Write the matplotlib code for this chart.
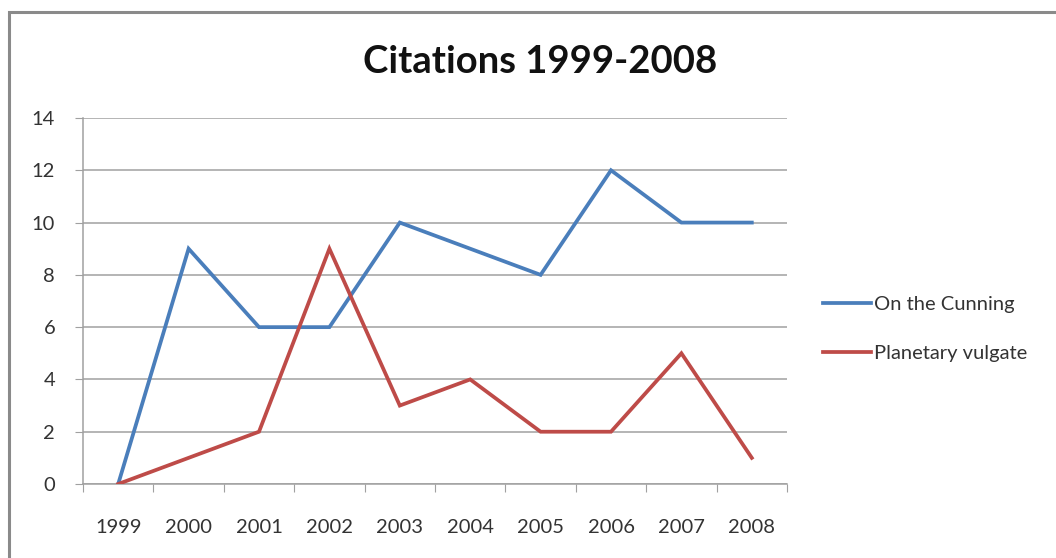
import matplotlib
matplotlib.use("Agg")
import matplotlib.pyplot as plt
from matplotlib.patches import Rectangle

years = ["1999", "2000", "2001", "2002", "2003", "2004", "2005", "2006", "2007", "2008"]
on_the_cunning = [0, 9, 6, 6, 10, 9, 8, 12, 10, 10]
planetary_vulgate = [0, 1, 2, 9, 3, 4, 2, 2, 5, 1]
y_ticks = [0, 2, 4, 6, 8, 10, 12, 14]

plt.rcParams["font.family"] = ["Lato", "DejaVu Sans"]

W, H = 1056, 558
fig = plt.figure(figsize=(W / 100, H / 100), dpi=100)
fig.patch.set_facecolor("white")

# chart frame
fig.patches.append(Rectangle((8.5 / W, -0.05), 1.2, 1 - 12 / H + 0.05,
                             transform=fig.transFigure, fill=False,
                             edgecolor="#8a8a8a", linewidth=2.2))

ax = fig.add_axes([83 / W, 1 - 484 / H, (787 - 83) / W, (484 - 118) / H])
x = range(len(years))
ax.plot(x, on_the_cunning, color="#4A7EBB", lw=2.7, label="On the Cunning",
        solid_joinstyle="miter", zorder=3)
ax.plot(x, planetary_vulgate, color="#BE4B48", lw=2.7, label="Planetary vulgate",
        solid_joinstyle="miter", zorder=3)

ax.set_xlim(-0.5, len(years) - 0.5)
ax.set_ylim(0, 14)
ax.set_yticks(y_ticks)
ax.set_xticks([i - 0.5 for i in range(len(years) + 1)], minor=False)
ax.set_xticklabels([])
ax.set_xticks(list(x), minor=True)
ax.set_xticklabels(years, minor=True)

grid_c = "#a0a0a0"
ax.grid(axis="y", color=grid_c, lw=1.1)
ax.set_axisbelow(True)
for s in ["top", "right"]:
    ax.spines[s].set_visible(False)
for s in ["left", "bottom"]:
    ax.spines[s].set_color(grid_c)
    ax.spines[s].set_linewidth(1.1)

label_size = 14.5
ax.tick_params(axis="y", direction="out", length=6, color=grid_c,
               labelsize=label_size, labelcolor="#333333", pad=14)
ax.tick_params(axis="x", which="major", direction="out", length=6, color=grid_c)
ax.tick_params(axis="x", which="minor", length=0, labelsize=label_size,
               labelcolor="#333333", pad=25)

fig.text(540 / W, 1 - 62 / H, "Citations 1999-2008", ha="center", va="center",
         fontsize=27.5, fontweight="bold", color="#111111")

leg = ax.legend(loc="center left", bbox_to_anchor=(805 / W, 1 - 329 / H),
                bbox_transform=fig.transFigure, frameon=False, fontsize=label_size,
                handlelength=2.4, handletextpad=0.15, labelspacing=1.55)
for t in leg.get_texts():
    t.set_color("#333333")

fig.savefig("out.png", dpi=100)
